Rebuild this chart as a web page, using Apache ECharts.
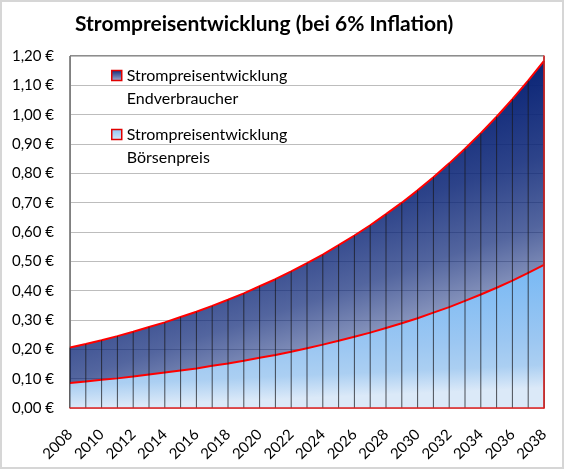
<!DOCTYPE html>
<html>
<head>
<meta charset="utf-8">
<script src="https://cdn.jsdelivr.net/npm/echarts@6/dist/echarts.min.js"></script>
<style>
  html, body { margin: 0; padding: 0; background: #fff; }
  #wrap { position: relative; width: 564px; height: 469px; }
  #main { width: 564px; height: 469px; }
  #frame { position: absolute; left: 0; top: 0; width: 564px; height: 469px;
           box-sizing: border-box; border: 2px solid #d6d6d6; pointer-events: none; }
</style>
</head>
<body>
<div id="wrap">
  <div id="main"></div>
  <div id="frame"></div>
</div>
<script>
// Jahre auf der x-Achse
const years = ['2008', '2009', '2010', '2011', '2012', '2013', '2014', '2015', '2016', '2017',
  '2018', '2019', '2020', '2021', '2022', '2023', '2024', '2025', '2026', '2027',
  '2028', '2029', '2030', '2031', '2032', '2033', '2034', '2035', '2036', '2037', '2038'];

// Strompreis Endverbraucher (€/kWh)
const endverbraucher = [0.206, 0.218, 0.231, 0.245, 0.260, 0.276, 0.292, 0.310, 0.328, 0.348,
  0.369, 0.391, 0.415, 0.439, 0.466, 0.494, 0.523, 0.555, 0.588, 0.623,
  0.661, 0.700, 0.742, 0.787, 0.834, 0.884, 0.937, 0.993, 1.053, 1.116, 1.183];

// Strompreis Börse (€/kWh)
const boersenpreis = [0.085, 0.090, 0.096, 0.101, 0.107, 0.114, 0.121, 0.128, 0.135, 0.144,
  0.152, 0.161, 0.171, 0.181, 0.192, 0.204, 0.216, 0.229, 0.243, 0.257,
  0.273, 0.289, 0.306, 0.325, 0.344, 0.365, 0.387, 0.410, 0.434, 0.461, 0.488];

const seriesNames = ['Endverbraucher', 'Börsenpreis'];

const FONT = 'Lato, "Open Sans", sans-serif';
const navy = a => `rgba(10,36,118,${a})`;

const darkFill = new echarts.graphic.LinearGradient(0, 0, 0.24, 1, [
  { offset: 0, color: navy(1) },
  { offset: 0.4, color: navy(1) },
  { offset: 0.65, color: navy(0.86) },
  { offset: 0.83, color: navy(0.7) },
  { offset: 0.92, color: navy(0.56) },
  { offset: 1, color: navy(0.44) }
]);

const lightFill = new echarts.graphic.LinearGradient(0, 0, 0.013, 1, [
  { offset: 0, color: '#70b4f3' },
  { offset: 0.17, color: '#79b9f4' },
  { offset: 0.66, color: '#9cc7f2' },
  { offset: 0.84, color: '#abcff2' },
  { offset: 1, color: '#dbe9f8' }
]);

const chart = echarts.init(document.getElementById('main'), null, { renderer: 'canvas' });

function legendFor(name, top, iconFill) {
  return {
    data: [{ name: name, icon: 'rect', itemStyle: { color: iconFill, borderColor: '#e00000', borderWidth: 1.5 } }],
    left: 111,
    top: top,
    orient: 'vertical',
    padding: 0,
    itemWidth: 10,
    itemHeight: 10,
    selectedMode: false,
    // leere erste Zeile, damit das Symbol auf Höhe der ersten Textzeile steht
    formatter: n => ' \nStrompreisentwicklung\n' + n,
    textStyle: { fontFamily: FONT, fontSize: 16, color: '#000', lineHeight: 23 }
  };
}

const option = {
  animation: false,
  backgroundColor: '#fff',
  title: {
    text: 'Strompreisentwicklung (bei 6% Inflation)',
    left: 70,
    top: 9,
    textStyle: { fontFamily: FONT, fontSize: 21, fontWeight: 'bold', color: '#000' }
  },
  legend: [
    legendFor(seriesNames[0], 41, new echarts.graphic.LinearGradient(0, 0, 0, 1, [
      { offset: 0, color: '#0a2472' }, { offset: 1, color: '#aab4d8' }])),
    legendFor(seriesNames[1], 100, new echarts.graphic.LinearGradient(0, 0, 0, 1, [
      { offset: 0, color: '#8cc2f2' }, { offset: 1, color: '#d8e8f8' }]))
  ],
  grid: {
    left: 70, right: 20, top: 56, bottom: 61,
    show: true, borderColor: '#1a1a1a', borderWidth: 1, backgroundColor: '#fff'
  },
  xAxis: {
    type: 'category',
    data: years,
    boundaryGap: false,
    z: 10,
    axisLine: { lineStyle: { color: '#e02020', width: 1.5 } },
    axisTick: { show: false },
    axisLabel: { interval: 1, rotate: 45, margin: 24, fontFamily: FONT, fontSize: 15, color: '#000' },
    splitLine: { show: false }
  },
  yAxis: [{
    type: 'value',
    min: 0, max: 1.2, interval: 0.1,
    axisLine: { show: true, lineStyle: { color: '#808080', width: 1 } },
    axisTick: { show: false },
    axisLabel: {
      margin: 16, fontFamily: FONT, fontSize: 15, color: '#000',
      formatter: v => v.toFixed(2).replace('.', ',') + ' €'
    },
    splitLine: { lineStyle: { color: '#bdbdbd', width: 1 } }
  }, {
    type: 'value',
    position: 'right',
    min: 0, max: 1.2, interval: 0.1,
    z: 10,
    axisLine: { show: true, lineStyle: { color: '#e02020', width: 1.5 } },
    axisTick: { show: false },
    axisLabel: { show: false },
    splitLine: { show: false }
  }],
  series: [
    {
      name: seriesNames[0],
      type: 'line',
      data: endverbraucher,
      showSymbol: false,
      lineStyle: { color: '#ff0000', width: 2 },
      itemStyle: { color: '#0a2472' },
      areaStyle: { color: darkFill, opacity: 1 },
      z: 2
    },
    {
      name: seriesNames[1],
      type: 'line',
      data: boersenpreis,
      showSymbol: false,
      lineStyle: { color: '#ff0000', width: 2 },
      itemStyle: { color: '#8cc2f2' },
      areaStyle: { color: lightFill, opacity: 1 },
      z: 3
    },
    {
      // Fallinien je Jahr
      name: 'drop',
      type: 'custom',
      z: 4,
      silent: true,
      data: endverbraucher.map((v, i) => [i, v]),
      encode: { x: 0, y: 1 },
      renderItem: (params, api) => {
        const p0 = api.coord([api.value(0), 0]);
        const p1 = api.coord([api.value(0), api.value(1)]);
        return {
          type: 'line',
          shape: { x1: p0[0], y1: p0[1], x2: p1[0], y2: p1[1] },
          style: { stroke: 'rgba(25,25,30,0.75)', lineWidth: 1 }
        };
      }
    }
  ]
};

chart.setOption(option);
</script>
</body>
</html>
